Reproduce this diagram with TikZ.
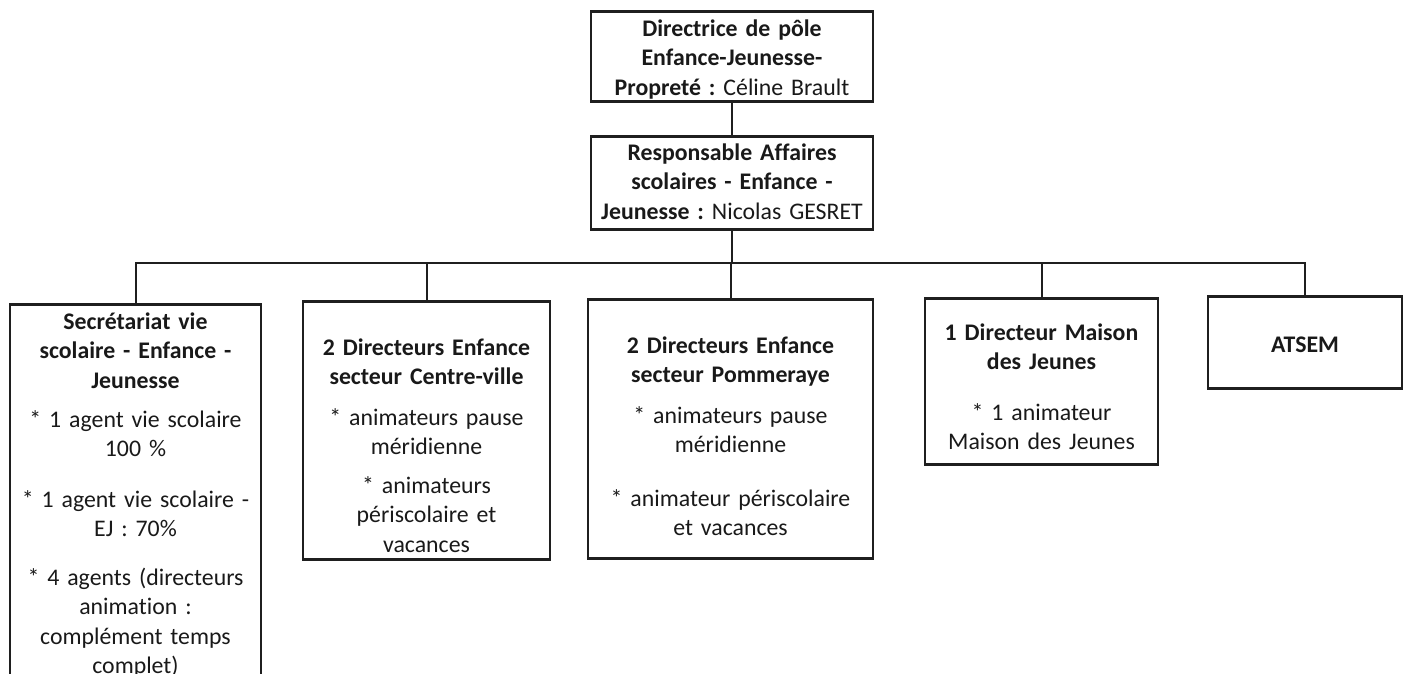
\documentclass[tikz,border=0pt]{standalone}
\usepackage{fontspec}
\setmainfont{Carlito}[Ligatures=NoCommon]
\usepackage{tikz}
\frenchspacing

\begin{document}
\begin{tikzpicture}[x=1pt,y=-1pt,
	box/.style={draw=black!88, line width=2.6pt, inner sep=0pt, anchor=north,
		align=center, text=black!90, font=\fontsize{23.8}{29.5}\selectfont},
	link/.style={draw=black!88, line width=2pt}]
	%\draw[help lines] (0,0) grid[step=50] (1405,674);
	\clip (0,0) rectangle (1405,674);
	\node[box, text width=282pt, text height=25pt, text depth=65pt] (dirp) at (732,10)
		{\textbf{Directrice de pôle}\\\textbf{Enfance-Jeunesse-}\\\textbf{Propreté :} Céline Brault};
	\node[box, text width=282pt, text height=24pt, text depth=69pt] (resp) at (732,135)
		{\textbf{Responsable Affaires}\\\textbf{scolaires - Enfance -}\\\textbf{Jeunesse :} Nicolas GESRET};
	\node[box, text width=251pt, text height=25pt, text depth=400pt] (sec) at (135.5,303)
		{\textbf{Secrétariat vie}\\\textbf{scolaire - Enfance -}\\\textbf{Jeunesse}\\[9.5pt]
		* 1 agent vie scolaire\\100 \%\\[21pt]
		* 1 agent vie scolaire -\\EJ : 70\%\\[19pt]
		* 4 agents (directeurs\\animation :\\complément temps\\complet)};
	\node[box, text width=247pt, text height=54pt, text depth=204pt] (cv) at (426.5,300)
		{\textbf{2 Directeurs Enfance}\\\textbf{secteur Centre-ville}\\[11pt]
		* animateurs pause\\méridienne\\[9pt]
		* animateurs\\périscolaire et\\vacances};
	\node[box, text width=285pt, text height=54pt, text depth=205pt] (pom) at (730.5,298)
		{\textbf{2 Directeurs Enfance}\\\textbf{secteur Pommeraye}\\[11pt]
		* animateurs pause\\méridienne\\[24pt]
		* animateur périscolaire\\et vacances};
	\node[box, text width=233pt, text height=42pt, text depth=124pt] (mj) at (1041.5,297)
		{\textbf{1 Directeur Maison}\\\textbf{des Jeunes}\\[21pt]
		* 1 animateur\\Maison des Jeunes};
	\node[box, text width=194pt, text height=56pt, text depth=36pt] (atsem) at (1305,295)
		{\textbf{ATSEM}};
	\coordinate (bus) at (732,263);
	\draw[link] (dirp.south) -- (resp.north);
	\draw[link] (resp.south) -- (bus);
	\foreach \k in {sec,cv,pom,mj,atsem}
		\draw[link] (bus) -| (\k.north);
\end{tikzpicture}
\end{document}
